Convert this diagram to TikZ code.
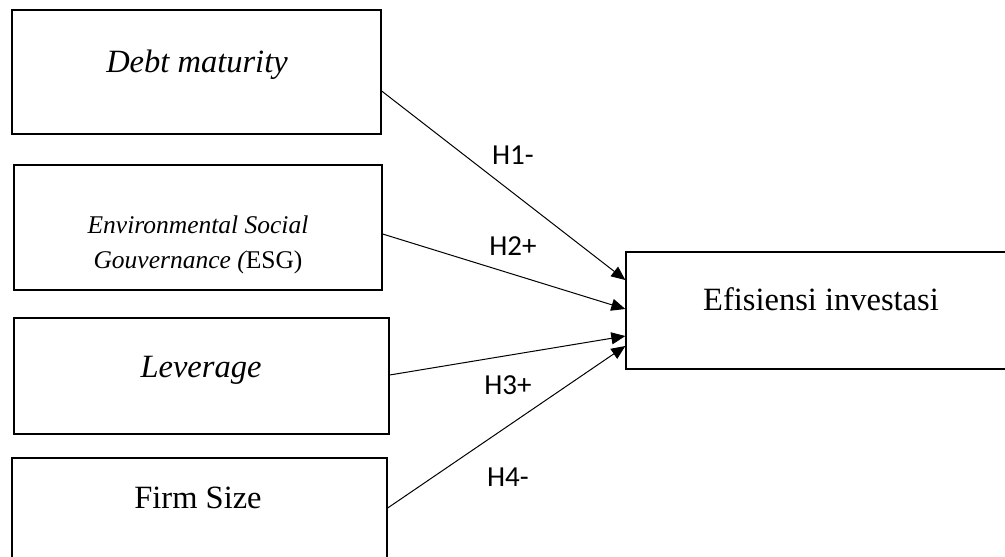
\documentclass[tikz,border=0pt]{standalone}
\usepackage{fontspec}
\setmainfont{Liberation Serif}
\newfontfamily\lblfont{Carlito}
\usetikzlibrary{arrows.meta}
\tikzset{
  box/.style={draw, line width=1.3pt, rectangle, inner sep=0pt},
  bigtxt/.style={anchor=base, inner sep=0pt, font=\fontsize{32.5}{38}\selectfont},
  esgtxt/.style={anchor=base, inner sep=0pt, font=\fontsize{25.5}{35}\selectfont\itshape},
  hyp/.style={inner sep=0pt, font=\lblfont\fontsize{29}{31}\selectfont},
  link/.style={line width=1pt, -{Triangle[length=14pt,width=12pt]}}
}
\begin{document}
\begin{tikzpicture}[x=1pt,y=-1pt]
\useasboundingbox (0,0) rectangle (1005,557);
\clip (0,0) rectangle (1005,557);
\fill[white] (0,0) rectangle (1005,557);
% boxes
\node[box, minimum width=369pt, minimum height=124pt] (b1) at (196.5,72) {};
\node[box, minimum width=368pt, minimum height=125pt] (b2) at (198,227.5) {};
\node[box, minimum width=375pt, minimum height=116pt] (b3) at (201.5,376) {};
\node[box, minimum width=375pt, minimum height=112pt] (b4) at (199.5,514) {};
\node[box, minimum width=390pt, minimum height=117pt] (tg) at (821,310.5) {};
% texts
\node[bigtxt] (t1) at (197,72) {\itshape Debt maturity};
\node[esgtxt] (t2a) at (198,233) {Environmental Social};
\node[esgtxt] (t2b) at (198,268) {Gouvernance (\upshape ESG)};
\node[bigtxt] (t3) at (201,377) {\itshape Leverage};
\node[bigtxt] (t4) at (198,508) {Firm Size};
\node[bigtxt] (tt) at (821,310) {Efisiensi investasi};
% arrows
\draw[link] ([yshift=-19pt]b1.east) -- ([yshift=30.5pt]tg.west);
\draw[link] ([yshift=-6.5pt]b2.east) -- ([yshift=1.5pt]tg.west);
\draw[link] ([yshift=1pt]b3.east) -- ([yshift=-25.5pt]tg.west);
\draw[link] ([yshift=6pt]b4.east) -- ([yshift=-35.5pt]tg.west);
% labels
\node[hyp] (h1) at (513,155) {H1-};
\node[hyp] (h2) at (513,246) {H2+};
\node[hyp] (h3) at (508,385) {H3+};
\node[hyp] (h4) at (508,477) {H4-};
\end{tikzpicture}
\end{document}
